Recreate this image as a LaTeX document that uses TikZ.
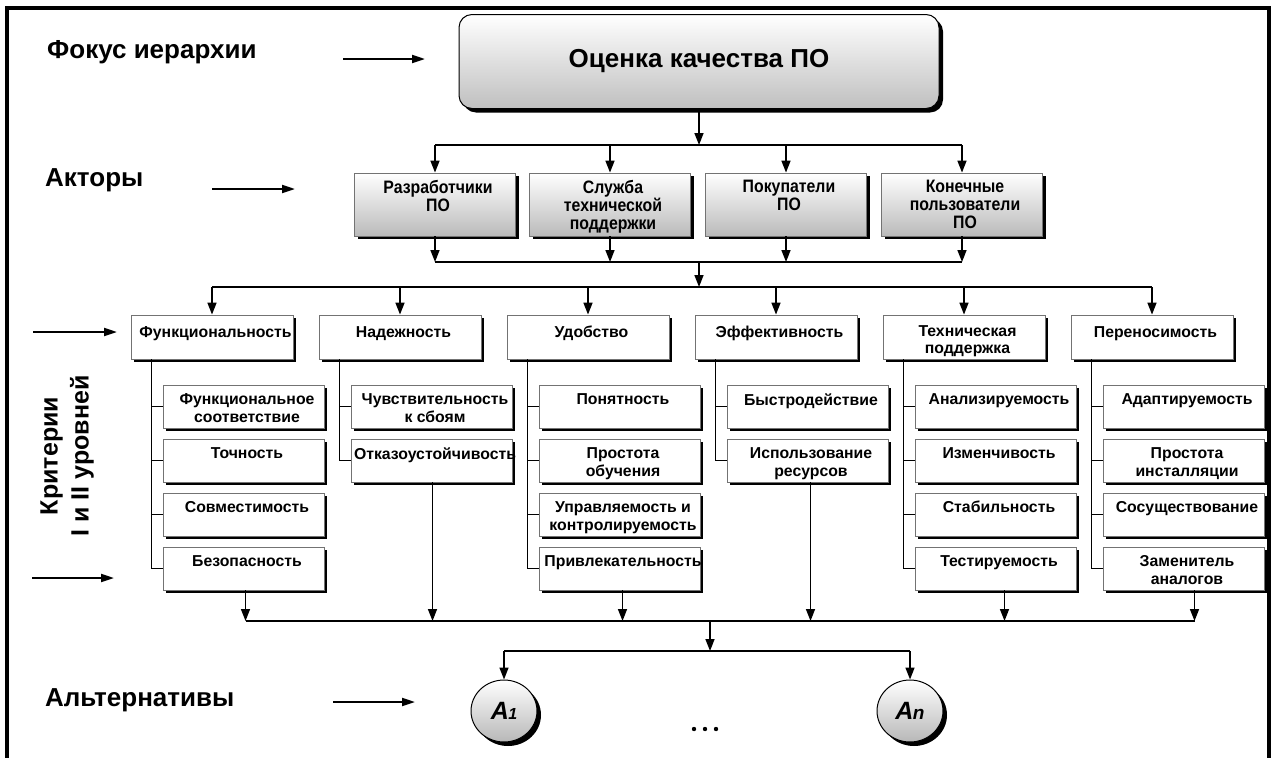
\documentclass[tikz,border=0pt]{standalone}
\usepackage{fontspec}
\setmainfont{Liberation Sans}
\newfontfamily\narrowsans[FakeStretch=0.88]{Liberation Sans}
\usetikzlibrary{arrows.meta,shadows,shapes.geometric}

\tikzset{
  x=1pt, y=-1pt,
  conn/.style={line width=1.6pt, -{Triangle[length=12pt,width=9pt]}},
  busline/.style={line width=1.6pt},
  treeline/.style={line width=1.2pt},
  pointer/.style={line width=2pt, -{Triangle[length=13pt,width=8pt]}},
  sidelabel/.style={font=\fontsize{26}{30}\selectfont\bfseries, anchor=west, inner sep=0pt},
  boxshadow/.style={drop shadow={shadow xshift=3pt, shadow yshift=-3pt, fill=black, opacity=1}},
  focusbox/.style={rounded corners=13pt, draw=black, line width=1pt, top color=white,
    bottom color=black!25, minimum width=480pt, minimum height=94pt,
    drop shadow={shadow xshift=4pt, shadow yshift=-4pt, fill=black, opacity=1}},
  actorbox/.style={draw=black!55, line width=0.8pt, top color=white, bottom color=black!27,
    minimum width=161pt, minimum height=63pt, boxshadow},
  critbox/.style={draw=black!55, line width=0.8pt, fill=white,
    minimum width=162pt, minimum height=44pt, boxshadow},
  subbox/.style={critbox, minimum width=161pt, minimum height=43pt},
  boxtext/.style={font=\fontsize{15.8}{18}\selectfont\bfseries, align=center, anchor=north,
    inner sep=0pt, execute at begin node={\rule{0pt}{11.5pt}}},
  crittext/.style={boxtext, font=\fontsize{15.8}{16.5}\selectfont\bfseries},
  actortext/.style={font={\narrowsans\fontsize{18}{18}\selectfont\bfseries\lineskiplimit=-20pt},
    align=center, anchor=north, inner sep=0pt, execute at begin node={\rule{0pt}{14pt}}},
  altnode/.style={ellipse, draw=black, line width=1pt, top color=white, bottom color=black!28,
    minimum width=66pt, minimum height=62pt, inner sep=0pt,
    drop shadow={shadow xshift=4pt, shadow yshift=-4pt, fill=black, opacity=1}},
}

\begin{document}
\begin{tikzpicture}
\useasboundingbox (0,0) rectangle (1275,758);
\fill[white] (0,0) rectangle (1275,758);

% outer frame, open at the bottom
\draw[line width=4pt] (6.5,762) -- (6.5,8) -- (1268.5,8) -- (1268.5,762);

% level captions with their pointers
\node[sidelabel] (lfocus) at (47,52) {Фокус иерархии};
\coordinate (pf0) at (343,59); \coordinate (pf1) at (425,59);
\draw[pointer] (pf0) -- (pf1);

\node[sidelabel] (lactors) at (45,180) {Акторы};
\coordinate (pa0) at (212,189); \coordinate (pa1) at (295,189);
\draw[pointer] (pa0) -- (pa1);

\coordinate (pc0) at (33,332); \coordinate (pc1) at (117,332);
\draw[pointer] (pc0) -- (pc1);
\node[rotate=90, align=center, font=\fontsize{25}{31}\selectfont\bfseries, inner sep=0pt]
  (lcrit) at (67,456) {Критерии\\I и II уровней};
\coordinate (ps0) at (32,578); \coordinate (ps1) at (114,578);
\draw[pointer] (ps0) -- (ps1);

\node[sidelabel] (lalt) at (45,700) {Альтернативы};
\coordinate (pl0) at (333,702); \coordinate (pl1) at (415,702);
\draw[pointer] (pl0) -- (pl1);

% focus of the hierarchy
\node[focusbox, font=\fontsize{26}{30}\selectfont\bfseries] (focus) at (699,61.5) {Оценка качества ПО};

% actors
\foreach \k/\x/\txt in {1/435/{Разработчики\\ПО}, 2/610/{Служба\\технической\\поддержки},
                        3/786/{Покупатели\\ПО}, 4/962/{Конечные\\пользователи\\ПО}} {
  \node[actorbox] (a\k) at (\x,204.5) {};
  \node[actortext] (ta\k) at ([xshift=3pt,yshift=-7.5pt]a\k.north) {\txt};
}

% criteria of the first level
\foreach \i/\txt in {1/Функциональность, 2/Надежность, 3/Удобство, 4/Эффективность,
                     5/{Техническая\\поддержка}, 6/Переносимость} {
  \node[critbox] (c\i) at ({212+188*(\i-1)},337) {};
  \node[crittext] (tc\i) at ([xshift=3.5pt,yshift=-11pt]c\i.north) {\txt};
}

% criteria of the second level
\foreach \i/\j/\txt in {
  1/1/{Функциональное\\соответствие}, 1/2/Точность, 1/3/Совместимость, 1/4/Безопасность,
  2/1/{Чувствительность\\к сбоям}, 2/2/Отказоустойчивость,
  3/1/Понятность, 3/2/{Простота\\обучения}, 3/3/{Управляемость и\\контролируемость}, 3/4/Привлекательность,
  4/1/Быстродействие, 4/2/{Использование\\ресурсов},
  5/1/Анализируемость, 5/2/Изменчивость, 5/3/Стабильность, 5/4/Тестируемость,
  6/1/Адаптируемость, 6/2/{Простота\\инсталляции}, 6/3/Сосуществование, 6/4/{Заменитель\\аналогов}} {
  \node[subbox] (s\i\j) at ({243.5+188*(\i-1)},{406.5+54*(\j-1)}) {};
  \node[boxtext] (ts\i\j) at ([xshift=3.5pt,yshift=-8.5pt]s\i\j.north) {\txt};
  \draw[treeline] (s\i\j.west) -- ++(-11,0);
}

% tree stems from each first-level criterion to its sub-criteria
\foreach \i/\n in {1/4, 2/2, 3/4, 4/2, 5/4, 6/4} {
  \draw[treeline] ([xshift=21pt]c\i.south west) |- (s\i\n.west);
}

% alternatives
\node[altnode] (alt1) at (504,711) {\fontsize{25}{25}\selectfont\bfseries\itshape A\kern-0.5pt{\fontsize{16}{16}\selectfont 1}};
\node[altnode] (altn) at (910,711) {\fontsize{25}{25}\selectfont\bfseries\itshape A\kern-0.5pt{\fontsize{19}{19}\selectfont n}};
\foreach \d in {694,705,716} \fill (\d,729) circle (2.2pt);

% bus lines
\coordinate (busA) at (699,145);
\coordinate (busB) at (699,262);
\coordinate (busC) at (699,287);
\coordinate (busD) at (710,621);
\coordinate (busE) at (710,651);

\draw[conn] (focus.south) -- (busA);
\draw[busline] (a1.north |- busA) -- (a4.north |- busA);
\foreach \k in {1,...,4} {
  \draw[conn] (a\k.north |- busA) -- (a\k.north);
  \draw[conn] (a\k.south) -- (a\k.south |- busB);
}
\draw[busline] (a1.south |- busB) -- (a4.south |- busB);
\draw[conn] (busB) -- (busC);
\draw[busline] (c1.north |- busC) -- (c6.north |- busC);
\foreach \i in {1,...,6} \draw[conn] (c\i.north |- busC) -- (c\i.north);

\foreach \s/\dx in {s14/2, s22/1, s34/3, s42/3, s54/9, s64/11} {
  \draw[conn] ([xshift=\dx pt]\s.south) -- ([xshift=\dx pt]\s.south |- busD);
}
\draw[busline] ([xshift=2pt]s14.south |- busD) -- ([xshift=11pt]s64.south |- busD);
\draw[conn] (busD) -- (busE);
\draw[busline] (alt1.north |- busE) -- (altn.north |- busE);
\draw[conn] (alt1.north |- busE) -- (alt1.north);
\draw[conn] (altn.north |- busE) -- (altn.north);
\end{tikzpicture}
\end{document}
